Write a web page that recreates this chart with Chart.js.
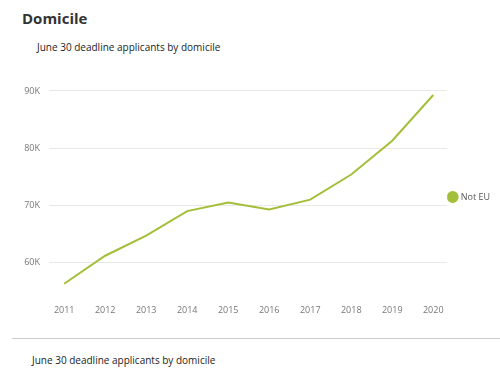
<!DOCTYPE html>
<html lang="en">
<head>
    <meta charset="UTF-8">
    <title>Domicile</title>
    <script src="https://cdn.jsdelivr.net/npm/chart.js"></script>
    <style>
        body { margin: 0; width: 500px; height: 372px; background: #fff; font-family: "Open Sans", sans-serif; position: relative; overflow: hidden; }
        #title { position: absolute; left: 22px; top: 8px; font-size: 15px; font-weight: bold; color: #333; }
        .sub { position: absolute; font-size: 10px; color: #222; }
        #sub1 { left: 37px; top: 40px; }
        #sub2 { left: 32px; top: 353px; }
        #rule { position: absolute; left: 12px; right: 0; top: 338px; border-top: 1px solid #ccc; }
        #wrap { position: absolute; left: 0; top: 60px; width: 500px; height: 262px; }
    </style>
</head>
<body>
    <div id="title">Domicile</div>
    <div id="sub1" class="sub">June 30 deadline applicants by domicile</div>
    <div id="wrap"><canvas id="myChart"></canvas></div>
    <div id="rule"></div>
    <div id="sub2" class="sub">June 30 deadline applicants by domicile</div>

    <script>
        // data
        const years = [2011, 2012, 2013, 2014, 2015, 2016, 2017, 2018, 2019, 2020];
        const notEU = [56300, 61200, 64700, 69000, 70500, 69300, 71000, 75400, 81300, 89300];
        const yTicks = [60000, 70000, 80000, 90000];

        const ctx = document.getElementById('myChart').getContext('2d');
        const myChart = new Chart(ctx, {
            type: 'line',
            data: {
                datasets: [{
                    label: 'Not EU',
                    data: years.map((y, i) => ({ x: y, y: notEU[i] })),
                    borderColor: '#a3bf3a',
                    backgroundColor: '#a3bf3a',
                    borderWidth: 2,
                    pointRadius: 0,
                    tension: 0
                }]
            },
            options: {
                responsive: true,
                maintainAspectRatio: false,
                animation: false,
                layout: { padding: { top: 12, bottom: 0, left: 0, right: 0 } },
                plugins: {
                    legend: {
                        position: 'right',
                        labels: {
                            usePointStyle: true,
                            pointStyle: 'circle',
                            boxWidth: 7,
                            boxHeight: 7,
                            padding: 2,
                            color: '#555',
                            font: { family: 'Open Sans', size: 9 }
                        }
                    },
                    tooltip: { enabled: false }
                },
                scales: {
                    x: {
                        type: 'linear',
                        min: 2010.63,
                        max: 2020.34,
                        afterBuildTicks: s => { s.ticks = years.map(v => ({ value: v })); },
                        ticks: {
                            color: '#777',
                            font: { family: 'Open Sans', size: 9 },
                            padding: 6,
                            callback: v => String(v)
                        },
                        grid: { display: false },
                        border: { display: false }
                    },
                    y: {
                        min: 55000,
                        max: 92900,
                        afterBuildTicks: s => { s.ticks = yTicks.map(v => ({ value: v })); },
                        afterFit: s => { s.width = 49; },
                        ticks: {
                            color: '#777',
                            font: { family: 'Open Sans', size: 9 },
                            padding: 9,
                            callback: v => (v / 1000) + 'K'
                        },
                        grid: { color: '#e8e8e8', drawTicks: false },
                        border: { display: false }
                    }
                }
            }
        });
    </script>
</body>
</html>
